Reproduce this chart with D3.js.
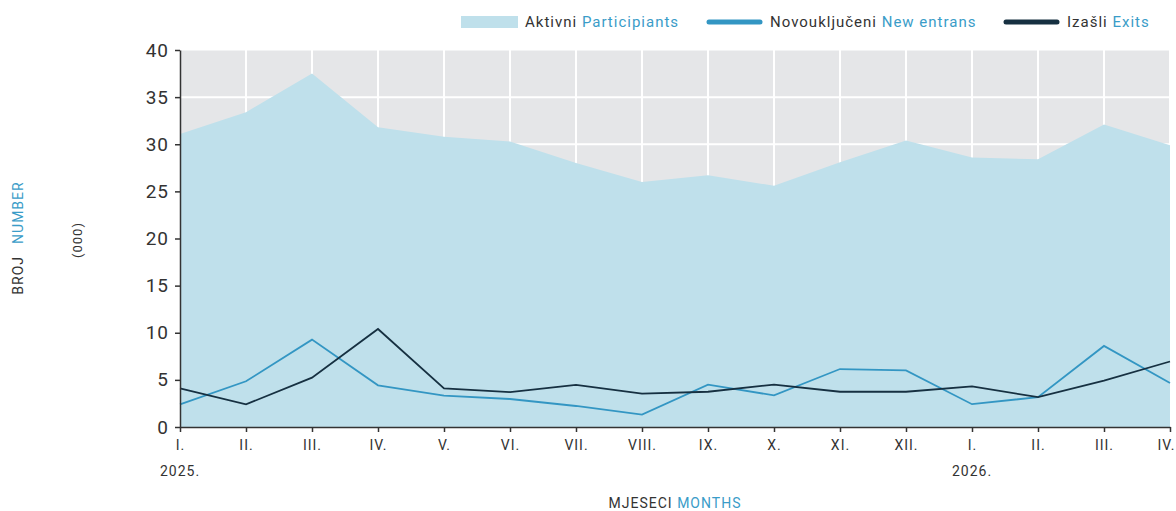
<!DOCTYPE html>
<html>
<head>
<meta charset="utf-8">
<script src="https://cdn.jsdelivr.net/npm/d3@7"></script>
<style>
  body { margin: 0; background: #fff; }
  svg text { font-family: "Roboto", "DejaVu Sans", sans-serif; letter-spacing: 1px; }
</style>
</head>
<body>
<div id="chart"></div>
<script>
// months (roman) and year labels
var months = ["I.", "II.", "III.", "IV.", "V.", "VI.", "VII.", "VIII.", "IX.", "X.", "XI.", "XII.", "I.", "II.", "III.", "IV."];
var years = [{idx: 0, label: "2025."}, {idx: 12, label: "2026."}];

// values in thousands
var participants = [31.1, 33.4, 37.5, 31.8, 30.8, 30.3, 28.0, 26.0, 26.7, 25.6, 28.1, 30.4, 28.6, 28.4, 32.1, 29.9];
var newEntrants = [2.4, 4.85, 9.27, 4.42, 3.32, 2.97, 2.23, 1.31, 4.5, 3.35, 6.15, 6.0, 2.42, 3.17, 8.6, 4.67];
var exits = [4.1, 2.4, 5.23, 10.4, 4.1, 3.71, 4.46, 3.55, 3.74, 4.5, 3.74, 3.74, 4.3, 3.17, 4.92, 6.95];

var yTicks = [0, 5, 10, 15, 20, 25, 30, 35, 40];

var W = 1176, H = 511;
var margin = {top: 50, right: 6, bottom: 84, left: 180};
var width = 1170 - margin.left,
    height = 427 - margin.top;

var svg = d3.select("#chart").append("svg")
  .attr("width", W).attr("height", H);

var g = svg.append("g").attr("transform", "translate(" + margin.left + "," + margin.top + ")");

var x = d3.scaleLinear().domain([0, months.length - 1]).range([0, width]);
var y = d3.scaleLinear().domain([0, 40]).range([height, 0]);

// grey background
g.append("rect")
  .attr("x", 0).attr("y", y(40))
  .attr("width", width + 1).attr("height", height)
  .attr("fill", "#e5e6e8");

// white grid
g.append("g").selectAll("line.h")
  .data(yTicks.slice(1))
  .join("line")
  .attr("x1", 0).attr("x2", width + 1)
  .attr("y1", d => y(d)).attr("y2", d => y(d))
  .attr("stroke", "#fff").attr("stroke-width", d => d === 40 ? 1 : 2);

g.append("g").selectAll("line.v")
  .data(months.map((m, i) => i).slice(1))
  .join("line")
  .attr("x1", d => x(d)).attr("x2", d => x(d))
  .attr("y1", 0).attr("y2", height)
  .attr("stroke", "#fff").attr("stroke-width", 2);

// area - participants
var area = d3.area()
  .x((d, i) => x(i))
  .y0(y(0))
  .y1(d => y(d));

g.append("path")
  .datum(participants)
  .attr("d", area)
  .attr("fill", "#bfe0eb");

var line = d3.line()
  .x((d, i) => x(i))
  .y(d => y(d));

g.append("path")
  .datum(newEntrants)
  .attr("d", line)
  .attr("fill", "none")
  .attr("stroke", "#3396c3")
  .attr("stroke-width", 1.8);

g.append("path")
  .datum(exits)
  .attr("d", line)
  .attr("fill", "none")
  .attr("stroke", "#163041")
  .attr("stroke-width", 1.8);

// y axis
var yAxis = g.append("g")
  .call(d3.axisLeft(y).tickValues(yTicks).tickSize(5).tickSizeOuter(0).tickPadding(6));
yAxis.select(".domain").attr("stroke", "#333").attr("stroke-width", 1.5);
yAxis.selectAll(".tick line").attr("stroke", "#333").attr("stroke-width", 1.5);
yAxis.selectAll("text").attr("fill", "#333").attr("font-size", "19px");

// x axis
var xAxis = g.append("g")
  .attr("transform", "translate(0," + height + ")")
  .call(d3.axisBottom(x).tickValues(d3.range(months.length)).tickFormat(i => months[i]).tickSize(5).tickSizeOuter(0).tickPadding(8));
xAxis.select(".domain").attr("stroke", "#333").attr("stroke-width", 1.5);
xAxis.selectAll(".tick line").attr("stroke", "#333").attr("stroke-width", 1.5);
xAxis.selectAll("text").attr("fill", "#333").attr("font-size", "14px");
// keep the last month inside the page
xAxis.selectAll(".tick text").filter((d, i) => i === months.length - 1).attr("dx", -4);

// years
g.selectAll("text.year")
  .data(years)
  .join("text")
  .attr("class", "year")
  .attr("x", d => x(d.idx))
  .attr("y", height + 49)
  .attr("text-anchor", "middle")
  .attr("fill", "#333")
  .attr("font-size", "14px")
  .text(d => d.label);

// axis titles
var xt = svg.append("text")
  .attr("x", 675).attr("y", 508)
  .attr("text-anchor", "middle")
  .attr("font-size", "14px");
xt.append("tspan").attr("fill", "#333").text("MJESECI ");
xt.append("tspan").attr("fill", "#3a9cc8").text("MONTHS");

var yt = svg.append("text")
  .attr("transform", "translate(23,238) rotate(-90)")
  .attr("text-anchor", "middle")
  .attr("font-size", "14px");
yt.append("tspan").attr("fill", "#333").text("BROJ");
yt.append("tspan").attr("fill", "#3a9cc8").attr("dx", 12).text("NUMBER");

svg.append("text")
  .attr("transform", "translate(82,240) rotate(-90)")
  .attr("text-anchor", "middle")
  .attr("font-size", "13px")
  .attr("fill", "#333")
  .text("(000)");

// legend
var legend = [
  {type: "rect", x: 461, color: "#bfe0eb", a: "Aktivni ", b: "Participiants"},
  {type: "line", x: 706, color: "#3396c3", a: "Novouključeni ", b: "New entrans"},
  {type: "line", x: 1003, color: "#163041", a: "Izašli ", b: "Exits"}
];
var lg = svg.append("g").selectAll("g").data(legend).join("g");
lg.filter(d => d.type === "rect").append("rect")
  .attr("x", d => d.x).attr("y", 16).attr("width", 57).attr("height", 12)
  .attr("fill", d => d.color);
lg.filter(d => d.type === "line").append("line")
  .attr("x1", d => d.x + 3).attr("x2", d => d.x + 54)
  .attr("y1", 22).attr("y2", 22)
  .attr("stroke", d => d.color).attr("stroke-width", 5).attr("stroke-linecap", "round");
var lt = lg.append("text")
  .attr("x", d => d.x + 64).attr("y", 27)
  .attr("font-size", "15px");
lt.append("tspan").attr("fill", "#333").text(d => d.a);
lt.append("tspan").attr("fill", "#3a9cc8").text(d => d.b);
</script>
</body>
</html>
